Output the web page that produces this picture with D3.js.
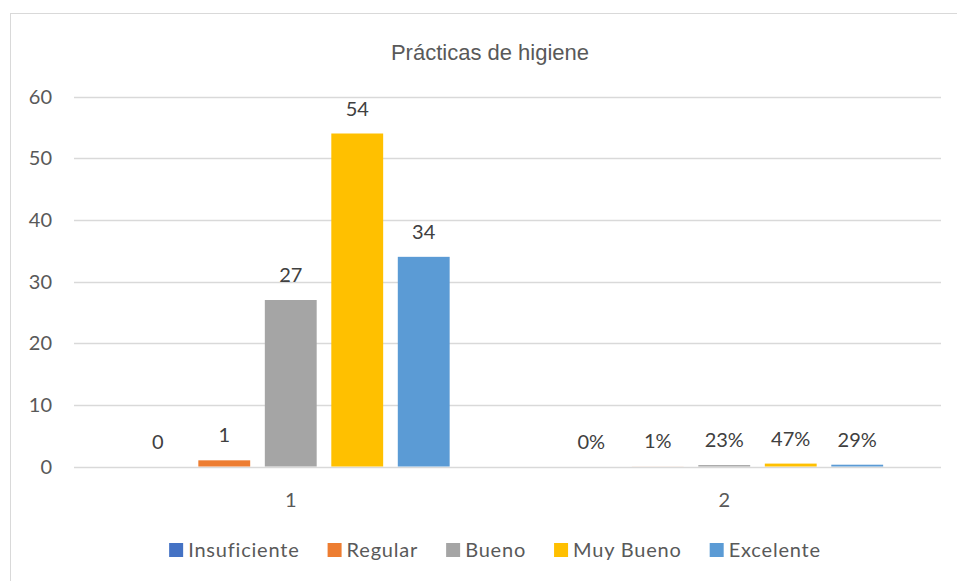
<!DOCTYPE html>
<html>
<head>
<meta charset="utf-8">
<script src="https://cdn.jsdelivr.net/npm/d3@7"></script>
<style>
  body { margin: 0; background: #fff; }
  svg { display: block; }
</style>
</head>
<body>
<svg id="chart" width="957" height="581"></svg>
<script>
const categories = ["1", "2"];
const series = ["Insuficiente", "Regular", "Bueno", "Muy Bueno", "Excelente"];
const colors = ["#4472C4", "#ED7D31", "#A5A5A5", "#FFC000", "#5B9BD5"];
const group1 = [0, 1, 27, 54, 34];
const group2 = [0, 0.01, 0.23, 0.47, 0.29];
const group2Labels = ["0%", "1%", "23%", "47%", "29%"];
const yTicks = [0, 10, 20, 30, 40, 50, 60];

const rows = [
  {cat: categories[0], values: group1, labels: group1.map(String)},
  {cat: categories[1], values: group2, labels: group2Labels}
];

const svg = d3.select("#chart");
const font = "Lato, 'Open Sans', sans-serif";

// chart frame
svg.append("rect")
  .attr("x", 10.5).attr("y", 13.5)
  .attr("width", 980).attr("height", 600)
  .attr("fill", "#fff").attr("stroke", "#d9d9d9");

const x0 = d3.scaleBand().domain(categories).range([74, 941]);
const x1 = d3.scaleBand().domain(series)
  .range([0, x0.bandwidth()])
  .paddingInner(0.22).paddingOuter(0.87);
const y = d3.scaleLinear().domain([0, 60]).range([466.5, 96.5]);

// gridlines
svg.append("g").selectAll("line")
  .data(yTicks)
  .join("line")
    .attr("x1", 74).attr("x2", 941)
    .attr("y1", d => Math.round(y(d)) + 0.5)
    .attr("y2", d => Math.round(y(d)) + 0.5)
    .attr("stroke", "#d9d9d9").attr("stroke-width", 1.3);

// y tick labels
svg.append("g").selectAll("text")
  .data(yTicks)
  .join("text")
    .attr("x", 52).attr("y", d => y(d))
    .attr("dy", "0.35em")
    .attr("text-anchor", "end")
    .attr("font-family", font).attr("font-size", 20)
    .attr("fill", "#595959")
    .text(d => d);

// bars + labels
let groups = svg.append("g").selectAll("g")
  .data(rows)
  .join("g")
    .attr("transform", d => `translate(${x0(d.cat)} 0)`);

groups.selectAll("rect")
  .data(d => d.values.map((v, i) => ({v: v, s: series[i], c: colors[i]})))
  .join("rect")
    .attr("x", d => x1(d.s))
    .attr("width", x1.bandwidth())
    .attr("y", d => y(d.v))
    .attr("height", d => y(0) - y(d.v))
    .attr("fill", d => d.c);

groups.selectAll("text")
  .data(d => d.values.map((v, i) => ({v: v, s: series[i], t: d.labels[i]})))
  .join("text")
    .attr("x", d => x1(d.s) + x1.bandwidth() / 2)
    .attr("y", d => y(d.v) - 18)
    .attr("text-anchor", "middle")
    .attr("font-family", font).attr("font-size", 20)
    .attr("fill", "#404040")
    .text(d => d.t);

// category labels
svg.append("g").selectAll("text")
  .data(categories)
  .join("text")
    .attr("x", d => x0(d) + x0.bandwidth() / 2)
    .attr("y", 507)
    .attr("text-anchor", "middle")
    .attr("font-family", font).attr("font-size", 20)
    .attr("fill", "#595959")
    .text(d => d);

// title
svg.append("text")
  .attr("x", 490).attr("y", 60)
  .attr("text-anchor", "middle")
  .attr("font-family", "'Liberation Sans Narrow', 'Arial Narrow', sans-serif")
  .attr("font-size", 22)
  .attr("fill", "#595959")
  .text("Prácticas de higiene");

// legend
let legend = svg.append("g");
let items = legend.selectAll("g")
  .data(series)
  .join("g");
items.append("rect")
  .attr("width", 14).attr("height", 14)
  .attr("y", 543)
  .attr("fill", (d, i) => colors[i]);
items.append("text")
  .attr("x", 19).attr("y", 550)
  .attr("dy", "0.36em")
  .attr("font-family", font).attr("font-size", 20)
  .attr("letter-spacing", 0.8)
  .attr("fill", "#595959")
  .text(d => d);

let gap = 28;
let widths = [];
items.each(function() {
  widths.push(19 + d3.select(this).select("text").node().getComputedTextLength());
});
let total = d3.sum(widths) + gap * (widths.length - 1);
let pos = 495 - total / 2;
items.attr("transform", function(d, i) {
  let t = `translate(${pos} 0)`;
  pos += widths[i] + gap;
  return t;
});
</script>
</body>
</html>
